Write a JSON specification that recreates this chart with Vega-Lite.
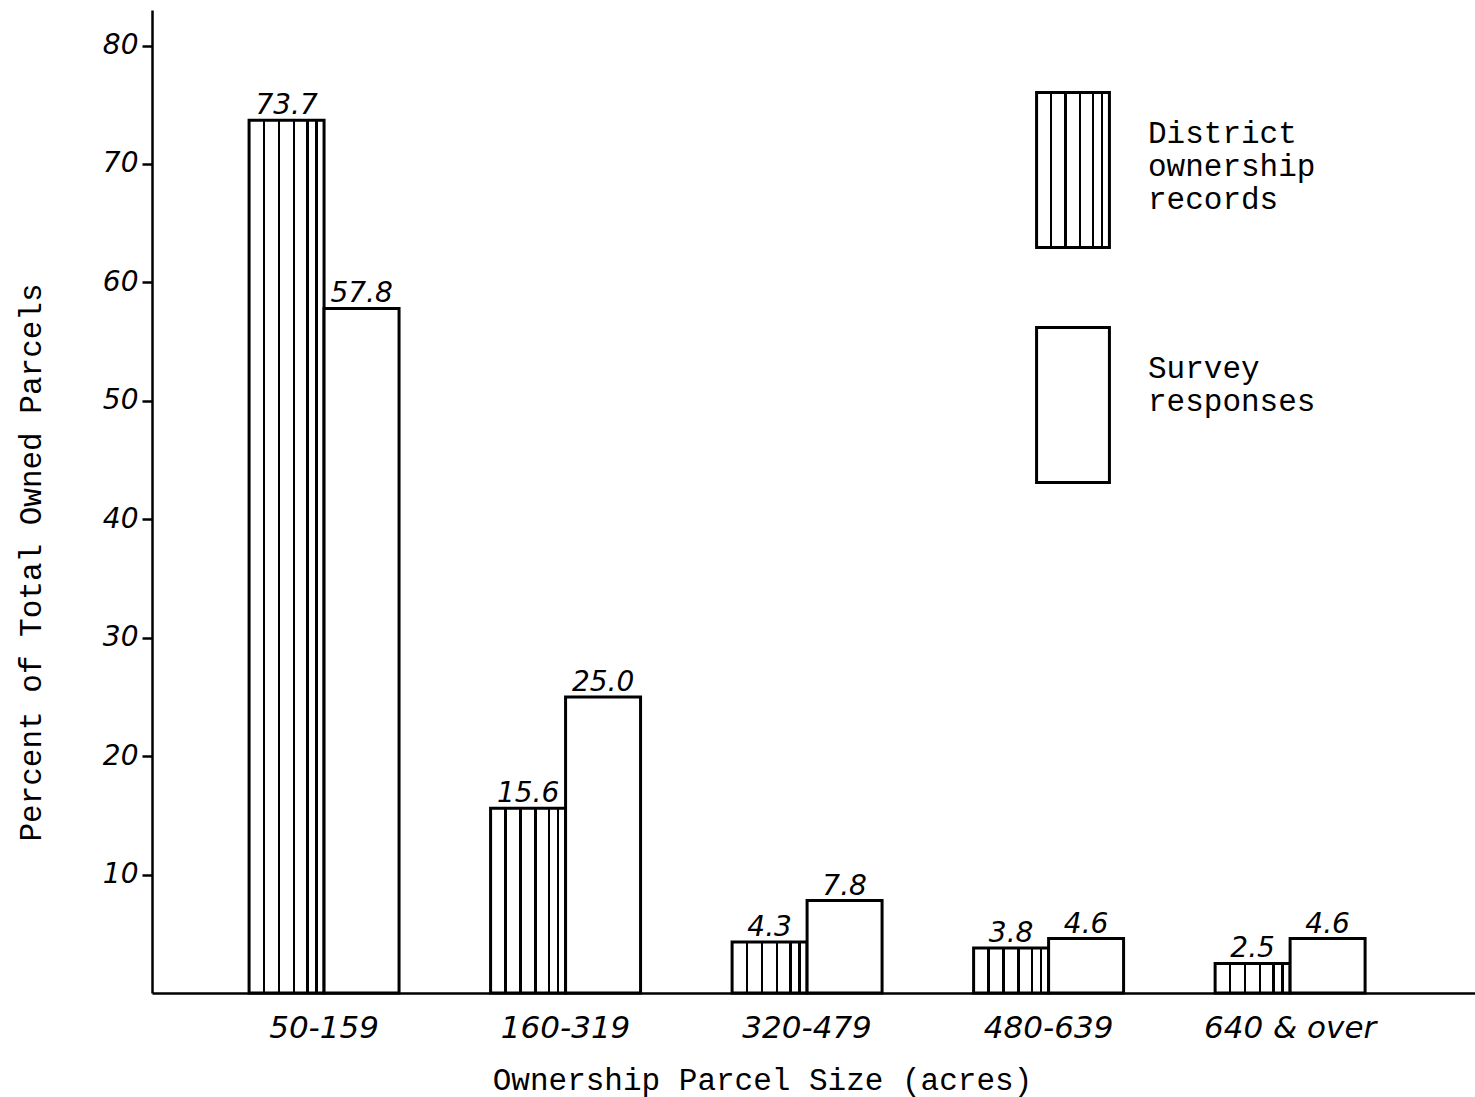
{
  "$schema": "https://vega.github.io/schema/vega-lite/v6.json",
  "width": 1323,
  "height": 983,
  "autosize": {"type": "none"},
  "padding": {"left": 152, "top": 10, "right": 0, "bottom": 104},
  "background": "white",
  "data": {
    "values": [
      {"size": "50-159", "source": "District ownership records", "pct": 73.7},
      {"size": "50-159", "source": "Survey responses", "pct": 57.8},
      {"size": "160-319", "source": "District ownership records", "pct": 15.6},
      {"size": "160-319", "source": "Survey responses", "pct": 25.0},
      {"size": "320-479", "source": "District ownership records", "pct": 4.3},
      {"size": "320-479", "source": "Survey responses", "pct": 7.8},
      {"size": "480-639", "source": "District ownership records", "pct": 3.8},
      {"size": "480-639", "source": "Survey responses", "pct": 4.6},
      {"size": "640 & over", "source": "District ownership records", "pct": 2.5},
      {"size": "640 & over", "source": "Survey responses", "pct": 4.6}
    ]
  },
  "encoding": {
    "x": {
      "field": "size",
      "type": "nominal",
      "sort": ["50-159", "160-319", "320-479", "480-639", "640 & over"],
      "scale": {"paddingInner": 0.379, "paddingOuter": 0.4285, "align": 0.469},
      "title": "Ownership Parcel Size (acres)",
      "axis": {
        "labelAngle": 0,
        "ticks": false,
        "domainColor": "black",
        "domainWidth": 2.5,
        "labelFont": "DejaVu Sans",
        "labelFontStyle": "italic",
        "labelFontSize": 31,
        "labelColor": "black",
        "labelPadding": 20,
        "labelDx": -6,
        "titleFont": "Liberation Mono",
        "titleFontSize": 31,
        "titleFontWeight": "normal",
        "titleColor": "black",
        "titleX": 610,
        "titleY": 96,
        "titleBaseline": "alphabetic"
      }
    },
    "xOffset": {
      "field": "source",
      "type": "nominal",
      "sort": ["District ownership records", "Survey responses"],
      "scale": {"paddingInner": 0, "paddingOuter": 0}
    },
    "y": {
      "field": "pct",
      "type": "quantitative",
      "scale": {"domain": [0, 83], "nice": false},
      "title": "Percent of Total Owned Parcels",
      "axis": {
        "values": [10, 20, 30, 40, 50, 60, 70, 80],
        "grid": false,
        "tickSize": 10,
        "tickWidth": 2.5,
        "tickColor": "black",
        "domainColor": "black",
        "domainWidth": 2.5,
        "labelFont": "DejaVu Sans",
        "labelFontStyle": "italic",
        "labelFontSize": 28,
        "labelColor": "black",
        "labelPadding": 4,
        "titleFont": "Liberation Mono",
        "titleFontSize": 31,
        "titleFontWeight": "normal",
        "titleColor": "black",
        "titleX": -112,
        "titleY": 552,
        "titleBaseline": "alphabetic"
      }
    }
  },
  "layer": [
    {
      "mark": {"type": "bar", "strokeWidth": 3, "stroke": "black"},
      "encoding": {
        "fill": {
          "condition": {
            "test": "datum.source == 'District ownership records'",
            "value": {
              "gradient": "linear",
              "x1": 0, "y1": 0, "x2": 1, "y2": 0,
              "stops": [
                {"offset": 0, "color": "white"},
                {"offset": 0.18, "color": "white"},
                {"offset": 0.18, "color": "black"},
                {"offset": 0.215, "color": "black"},
                {"offset": 0.215, "color": "white"},
                {"offset": 0.38, "color": "white"},
                {"offset": 0.38, "color": "black"},
                {"offset": 0.415, "color": "black"},
                {"offset": 0.415, "color": "white"},
                {"offset": 0.58, "color": "white"},
                {"offset": 0.58, "color": "black"},
                {"offset": 0.615, "color": "black"},
                {"offset": 0.615, "color": "white"},
                {"offset": 0.76, "color": "white"},
                {"offset": 0.76, "color": "black"},
                {"offset": 0.795, "color": "black"},
                {"offset": 0.795, "color": "white"},
                {"offset": 0.88, "color": "white"},
                {"offset": 0.88, "color": "black"},
                {"offset": 0.915, "color": "black"},
                {"offset": 0.915, "color": "white"},
                {"offset": 1, "color": "white"}
              ]
            }
          },
          "value": "white"
        }
      }
    },
    {
      "mark": {
        "type": "text",
        "baseline": "alphabetic",
        "dy": -6,
        "font": "DejaVu Sans",
        "fontStyle": "italic",
        "fontSize": 28,
        "color": "black"
      },
      "encoding": {
        "text": {"field": "pct", "type": "quantitative", "format": ".1f"}
      }
    },
    {
      "transform": [{"filter": "false"}],
      "mark": {"type": "bar", "stroke": "black", "strokeWidth": 3},
      "encoding": {
        "fill": {
          "field": "source",
          "type": "nominal",
          "scale": {
            "domain": ["District ownership records", "Survey responses"],
            "range": ["url(#gradient_0) white", "white"]
          },
          "legend": {
            "orient": "none",
            "legendX": 842,
            "legendY": 62,
            "title": null,
            "padding": 0,
            "symbolType": "M-0.47,-0.755H0.47V1.245H-0.47Z",
            "symbolSize": 24025,
            "symbolStrokeColor": "black",
            "symbolStrokeWidth": 3,
            "symbolOpacity": 1,
            "labelFont": "Liberation Mono",
            "labelFontSize": 31,
            "labelColor": "black",
            "labelOffset": -4,
            "labelLimit": 400,
            "labelBaseline": "line-bottom",
            "rowPadding": 53,
            "labelExpr": "datum.label == 'Survey responses' ? ['Survey','responses'] : ['District','ownership','records']"
          }
        }
      }
    }
  ],
  "config": {"view": {"stroke": null}}
}
